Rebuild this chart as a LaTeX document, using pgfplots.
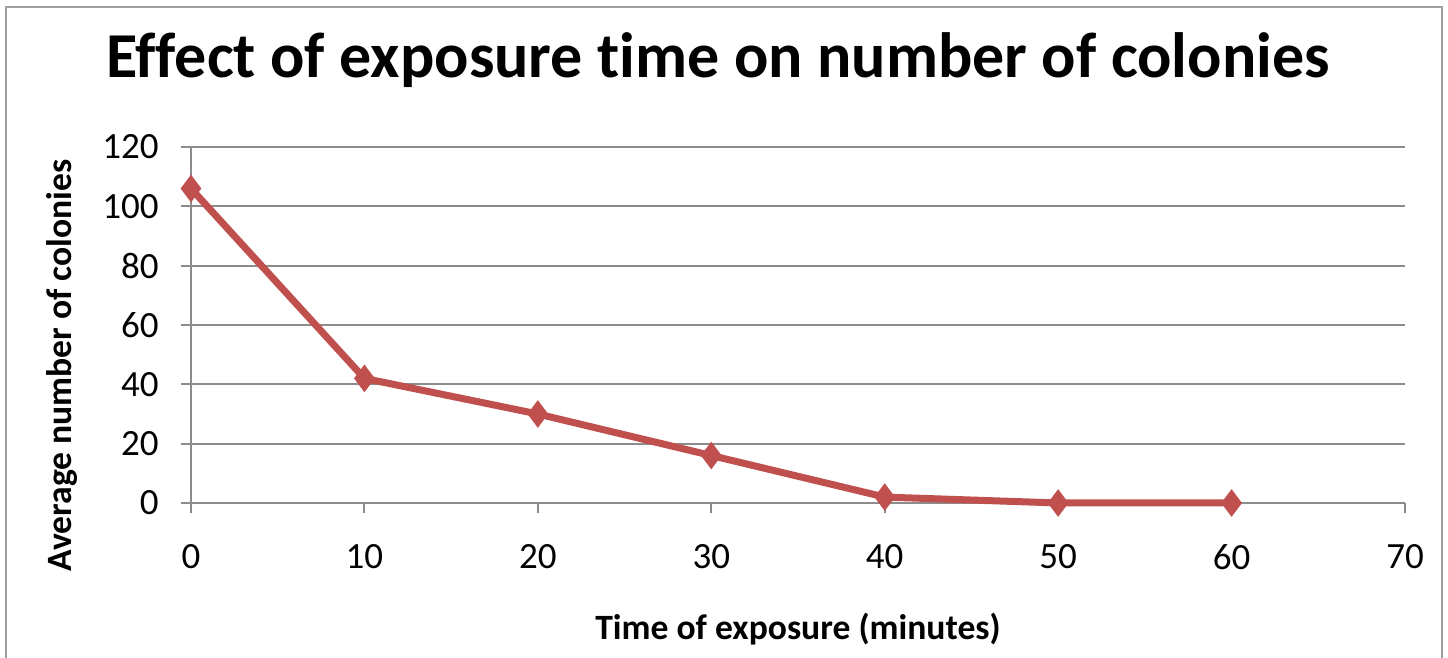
\documentclass[border=0pt]{standalone}
\usepackage{pgfplots}
\pgfplotsset{compat=1.18}
\usepackage{fontspec}
\setmainfont{Carlito}[Ligatures=NoCommon]
\definecolor{seriesred}{HTML}{C0504D}
\definecolor{gridgray}{HTML}{8C8C8C}
\definecolor{framegray}{HTML}{A0A0A0}

\begin{document}
\begin{tikzpicture}
\path[use as bounding box] (-95.5pt,-77.5pt) rectangle (628.5pt,251.5pt);
\begin{axis}[
    at={(0,0)}, anchor=south west,
    scale only axis,
    width=607pt, height=178pt,
    xmin=0, xmax=70, ymin=0, ymax=120,
    xtick={0,10,...,70},
    ytick={0,20,...,120},
    axis x line=bottom, axis y line=left,
    axis line style={gridgray, line width=1pt, -},
    tick align=outside,
    major tick length=5pt,
    tick style={gridgray, line width=1pt},
    ymajorgrids,
    grid style={gridgray, line width=1pt},
    /pgf/number format/assume math mode=true,
    ticklabel style={font=\fontsize{18.5}{20}\selectfont},
    yticklabel style={anchor=east, inner sep=0pt, xshift=-11pt},
    xticklabel style={anchor=north, inner sep=0pt, yshift=-15.5pt},
    clip=false,
]
\addplot[seriesred, line width=3.5pt, mark=diamond*, mark size=6.5pt,
         mark options={fill=seriesred, draw=seriesred, line width=0.5pt}]
    coordinates {
        (0,106)
        (10,42)
        (20,30)
        (30,16)
        (40,2)
        (50,0)
        (60,0)
    };
\end{axis}
% chart frame
\draw[framegray, line width=1pt] (-92.5pt,-90pt) -- (-92.5pt,248pt) -- (625.5pt,248pt) -- (625.5pt,-90pt);
% titles
\node[anchor=base, font=\fontsize{32}{34}\selectfont\bfseries] at (263.5pt,212.5pt)
    {Effect of exposure time on number of colonies};
\node[anchor=base, font=\fontsize{17.8}{20}\selectfont\bfseries] at (303.5pt,-68.5pt)
    {Time of exposure (minutes)};
\node[anchor=base, rotate=90, font=\fontsize{17.8}{20}\selectfont\bfseries] at (-59.5pt,68.75pt)
    {Average number of colonies};
\end{tikzpicture}
\end{document}
